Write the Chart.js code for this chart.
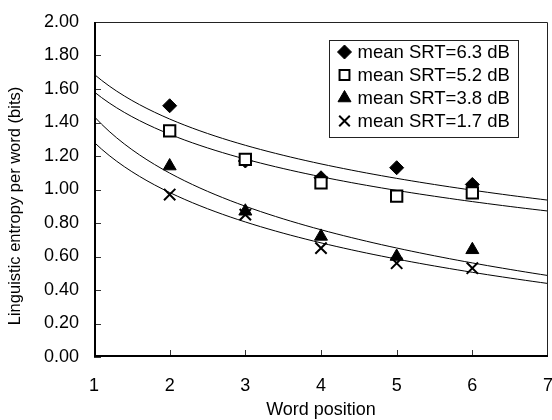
<!DOCTYPE html>
<html>
<head>
<meta charset="utf-8">
<script src="https://cdn.jsdelivr.net/npm/chart.js@4/dist/chart.umd.min.js"></script>
<style>
  html, body { margin: 0; padding: 0; background: #fff; }
  #wrap { width: 552px; height: 420px; }
</style>
</head>
<body>
<div id="wrap"><canvas id="c" width="552" height="420"></canvas></div>
<script>
// ---- data -----------------------------------------------------------
const wordPos   = [2, 3, 4, 5, 6];
const srt63     = [1.50, 1.17, 1.07, 1.13, 1.03];
const srt52     = [1.35, 1.18, 1.04, 0.96, 0.98];
const srt38     = [1.14, 0.87, 0.72, 0.60, 0.64];
const srt17     = [0.97, 0.85, 0.65, 0.56, 0.53];
const labels    = ['mean SRT=6.3 dB', 'mean SRT=5.2 dB', 'mean SRT=3.8 dB', 'mean SRT=1.7 dB'];
const xRange    = [1, 7];
const yTicks    = [0, 0.2, 0.4, 0.6, 0.8, 1.0, 1.2, 1.4, 1.6, 1.8, 2.0];
const yTitle    = 'Linguistic entropy per word (bits)';

const FONT = "'Liberation Sans', Arial, sans-serif";

// logarithmic trendline (least squares, y = a + b ln x), like Excel's
function logFit(xs, ys) {
  const lx = xs.map(Math.log);
  const n = xs.length;
  const mx = lx.reduce((s, v) => s + v, 0) / n;
  const my = ys.reduce((s, v) => s + v, 0) / n;
  let sxy = 0, sxx = 0;
  lx.forEach((v, i) => { sxy += (v - mx) * (ys[i] - my); sxx += (v - mx) ** 2; });
  const b = sxy / sxx;
  const a = my - b * mx;
  const pts = [];
  for (let k = 0; k <= 60; k++) {
    const x = xRange[0] + (xRange[1] - xRange[0]) * k / 60;
    pts.push({ x, y: a + b * Math.log(x) });
  }
  return pts;
}

const toPts = (ys) => wordPos.map((x, i) => ({ x, y: ys[i] }));

// marker styles; legend sizes are a bit smaller for the open square / cross
const series = [
  { ys: srt63, style: 'rectRot',  radius: 7,   legendR: 7,   bg: '#000', border: 1 },
  { ys: srt52, style: 'rect',     radius: 8,   legendR: 7,   bg: '#fff', border: 2 },
  { ys: srt38, style: 'triangle', radius: 7.5, legendR: 7.5, bg: '#000', border: 1 },
  { ys: srt17, style: 'crossRot', radius: 8,   legendR: 7.5, bg: '#000', border: 2 },
];

const datasets = [];
series.forEach((s, i) => {
  datasets.push({
    label: labels[i],
    data: toPts(s.ys),
    showLine: false,
    pointStyle: s.style,
    pointRadius: s.radius,
    pointHoverRadius: s.radius,
    pointBackgroundColor: s.bg,
    pointBorderColor: '#000',
    pointBorderWidth: s.border,
    order: 4 - i,
  });
});
series.forEach((s, i) => {
  datasets.push({
    label: 'trend ' + i,
    data: logFit(wordPos, s.ys),
    showLine: true,
    borderColor: '#000',
    borderWidth: 1,
    pointRadius: 0,
    tension: 0,
    order: 10,
  });
});

// frame, inward ticks, y title and the boxed legend
const framePlugin = {
  id: 'frame',
  afterDatasetsDraw(chart) {
    const { ctx, chartArea: a, scales } = chart;
    ctx.save();
    // inward tick marks
    ctx.strokeStyle = '#333';
    ctx.lineWidth = 1;
    yTicks.forEach(v => {
      const y = Math.round(scales.y.getPixelForValue(v)) + 0.5;
      ctx.beginPath(); ctx.moveTo(a.left, y); ctx.lineTo(a.left + 7, y); ctx.stroke();
    });
    wordPos.forEach(v => {
      const x = Math.round(scales.x.getPixelForValue(v)) + 0.5;
      ctx.beginPath(); ctx.moveTo(x, a.bottom); ctx.lineTo(x, a.bottom - 7); ctx.stroke();
    });
    // thin top/right border
    ctx.strokeStyle = '#222';
    ctx.beginPath();
    ctx.moveTo(a.left, a.top + 0.5); ctx.lineTo(a.right - 0.5, a.top + 0.5); ctx.lineTo(a.right - 0.5, a.bottom);
    ctx.stroke();
    // thick left/bottom axes
    ctx.strokeStyle = '#000';
    ctx.lineWidth = 2;
    ctx.beginPath();
    ctx.moveTo(a.left + 1, a.top); ctx.lineTo(a.left + 1, a.bottom - 1); ctx.lineTo(a.right, a.bottom - 1);
    ctx.stroke();

    // y axis title (Excel centres it on the whole chart height)
    ctx.save();
    ctx.translate(15, chart.height / 2 - 4);
    ctx.rotate(-Math.PI / 2);
    ctx.font = '16.5px ' + FONT;
    ctx.fillStyle = '#000';
    ctx.textAlign = 'center';
    ctx.textBaseline = 'middle';
    ctx.fillText(yTitle, 0, 0);
    ctx.restore();

    // legend box
    const bx = 329.5, by = 40.5, bw = 189, bh = 97;
    ctx.fillStyle = '#fff';
    ctx.fillRect(bx, by, bw, bh);
    ctx.lineWidth = 1;
    ctx.strokeStyle = '#222';
    ctx.strokeRect(bx, by, bw, bh);
    ctx.font = '18.5px ' + FONT;
    ctx.textBaseline = 'middle';
    series.forEach((s, i) => {
      const cy = by + 11.5 + i * 23;
      ctx.fillStyle = s.bg;
      ctx.strokeStyle = '#000';
      ctx.lineWidth = s.border;
      Chart.helpers.drawPoint(ctx, { pointStyle: s.style, radius: s.legendR, borderWidth: s.border, rotation: 0 },
                              bx + 15, cy);
      ctx.fillStyle = '#000';
      ctx.fillText(chart.data.datasets[i].label, bx + 28, cy + 1);
    });
    ctx.restore();
  }
};

new Chart(document.getElementById('c'), {
  type: 'scatter',
  data: { datasets },
  plugins: [framePlugin],
  options: {
    responsive: false,
    animation: false,
    events: [],
    layout: { autoPadding: false, padding: { top: 22, right: 4, left: 0, bottom: 0 } },
    plugins: { legend: { display: false }, tooltip: { enabled: false } },
    scales: {
      x: {
        type: 'linear',
        min: xRange[0], max: xRange[1],
        afterFit: (s) => { s.height = 63; s.paddingRight = 0; s.paddingLeft = 0; },
        grid: { display: false, drawTicks: false },
        border: { display: false },
        ticks: { stepSize: 1, padding: 18, color: '#000', font: { family: FONT, size: 18 } },
        title: { display: true, text: 'Word position', color: '#000', padding: { top: 0, bottom: -1 },
                 font: { family: FONT, size: 18 } },
      },
      y: {
        min: 0, max: 2,
        afterFit: (s) => { s.width = 94; s.paddingTop = 0; },
        grid: { display: false, drawTicks: false },
        border: { display: false },
        ticks: { stepSize: 0.2, padding: 15, color: '#000', font: { family: FONT, size: 18 },
                 callback: (v) => v.toFixed(2) },
        title: { display: false },
      },
    },
  },
});
</script>
</body>
</html>
